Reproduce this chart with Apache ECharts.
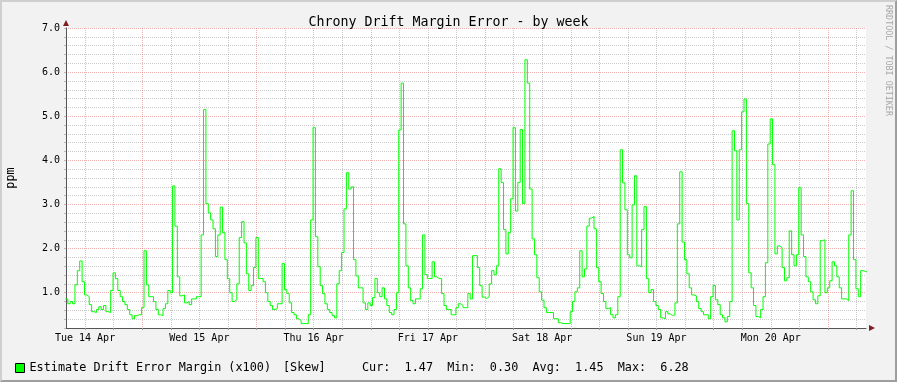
<!DOCTYPE html>
<html>
<head>
<meta charset="utf-8">
<script src="https://cdn.jsdelivr.net/npm/echarts@6/dist/echarts.min.js"></script>
<style>
  html, body { margin: 0; padding: 0; background: #F2F2F2; }
  #wrap { position: relative; width: 897px; height: 382px; }
  #chart { position: absolute; left: 0; top: 0; width: 897px; height: 382px; }
  #frame { position: absolute; left: 0; top: 0; width: 897px; height: 382px; box-sizing: border-box;
           border-top: 2px solid #CFCFCF; border-left: 2px solid #CFCFCF;
           border-bottom: 2px solid #9E9E9E; border-right: 2px solid #9E9E9E; pointer-events: none; }
</style>
</head>
<body>
<div id="wrap"><div id="chart"></div><div id="frame"></div></div>
<script>
// ---- data ----
const titleText = 'Chrony Drift Margin Error - by week';
const dayLabels = ['Tue 14 Apr', 'Wed 15 Apr', 'Thu 16 Apr', 'Fri 17 Apr', 'Sat 18 Apr', 'Sun 19 Apr', 'Mon 20 Apr'];
const yTickLabels = ['1.0', '2.0', '3.0', '4.0', '5.0', '6.0', '7.0'];
const seriesName = 'Estimate Drift Error Margin (x100)';
const legendExtra = '[Skew]';
const legendStats = ['Cur:  1.47', 'Min:  0.30', 'Avg:  1.45', 'Max:  6.28'];
// hours since Tue 14 Apr 00:00; 30-minute samples
const startHour = 7.88;
const stepHours = 0.5;
const driftMargin = [
  0.86, 0.75, 0.80, 0.75, 1.18, 1.50, 1.72, 1.25, 0.95, 0.91,
  0.73, 0.57, 0.55, 0.62, 0.68, 0.62, 0.71, 0.57, 0.55, 1.05,
  1.45, 1.32, 1.05, 0.91, 0.80, 0.73, 0.62, 0.50, 0.41, 0.48,
  0.50, 0.50, 0.66, 1.95, 1.18, 0.91, 0.91, 0.80, 0.62, 0.50,
  0.48, 0.64, 0.75, 1.05, 1.00, 3.42, 2.51, 1.36, 0.93, 0.95,
  0.77, 0.80, 0.73, 0.86, 0.86, 0.91,
  0.91, 2.31, 5.15, 3.02, 2.81, 2.65, 2.45, 1.82, 2.31, 2.94,
  2.36, 1.75, 1.32, 1.00, 0.80, 0.84, 1.20, 2.25, 2.61, 2.13,
  1.43, 1.05, 1.16, 1.57, 2.25, 1.32, 1.32, 1.25, 1.00, 0.80,
  0.71, 0.62, 0.64, 0.75, 0.75, 1.66, 1.07, 0.98, 0.77, 0.55,
  0.50, 0.41, 0.37, 0.30, 0.30, 0.30, 0.50, 2.65, 4.74, 2.27,
  1.59, 1.16, 0.98, 0.75, 0.62, 0.55,
  0.48, 0.43, 1.20, 1.50, 1.91, 2.90, 3.72, 3.35, 3.40, 1.75,
  1.38, 1.11, 1.11, 0.77, 0.62, 0.77, 0.71, 0.89, 1.32, 1.00,
  0.91, 1.11, 0.86, 0.71, 0.55, 0.50, 0.62, 1.00, 4.69, 5.75,
  2.56, 1.61, 1.11, 0.82, 0.75, 0.86, 0.86, 1.09, 2.31, 1.41,
  1.32, 1.32, 1.70, 1.36, 1.32, 1.32, 0.98, 0.71, 0.62, 0.62,
  0.50, 0.50, 0.66, 0.75, 0.71, 0.66,
  0.66, 0.98, 0.86, 1.84, 1.84, 1.57, 1.16, 0.90, 0.87, 0.91,
  1.20, 1.50, 1.41, 1.61, 3.81, 3.50, 2.43, 1.88, 2.36, 3.13,
  4.74, 2.85, 3.50, 4.70, 3.02, 6.28, 5.75, 3.35, 2.22, 1.86,
  1.34, 1.02, 0.83, 0.66, 0.55, 0.55, 0.55, 0.41, 0.41, 0.32,
  0.30, 0.30, 0.30, 0.30, 0.57, 0.80, 1.02, 1.11, 1.95, 1.36,
  1.54, 2.51, 2.69, 2.73, 2.45, 1.57,
  1.25, 0.98, 0.80, 0.64, 0.66, 0.50, 0.43, 0.50, 0.91, 4.24,
  3.49, 2.88, 1.86, 1.79, 2.99, 3.65, 1.61, 1.59, 2.43, 2.95,
  1.32, 1.00, 1.07, 0.80, 0.71, 0.62, 0.43, 0.41, 0.57, 0.52,
  0.48, 0.50, 0.77, 2.56, 3.74, 2.15, 1.75, 1.43, 1.11, 0.95,
  0.93, 0.80, 0.64, 0.57, 0.50, 0.50, 0.41, 0.91, 1.16, 0.84,
  0.73, 0.50, 0.43, 0.34, 0.46, 0.80, 4.67,
  4.22, 2.65, 4.24, 5.10, 5.39, 3.02, 1.45, 1.11, 0.71, 0.46,
  0.43, 0.62, 0.91, 1.68, 4.37, 4.94, 3.90, 1.88, 2.06, 2.02,
  1.57, 1.27, 1.34, 2.40, 1.86, 1.61, 1.86, 3.38, 2.31, 1.82,
  1.36, 1.25, 1.02, 0.84, 0.75, 0.93, 2.18, 2.20, 1.00, 1.11,
  1.27, 1.70, 1.61, 1.36, 1.11, 0.86, 0.86, 0.82, 2.31, 3.31,
  1.75, 1.09, 0.91, 1.50, 1.48, 1.47
];

// ---- build ----
const FONT = 'DejaVu Sans Mono';
const X_MIN = 8, X_MAX = 176;
const seriesData = driftMargin.map((v, i) => [startHour + i * stepHours, v]);
seriesData.push([startHour + driftMargin.length * stepHours, driftMargin[driftMargin.length - 1]]);

// grid every 6 hours (12:00 first inside the range), labels at noon
const gridHours = [];
for (let h = 12; h < X_MAX; h += 6) gridHours.push(h);
const labelHours = dayLabels.map((_, i) => 12 + 24 * i);

const G = 'rgba(150,150,150,0.5)';
const R = 'rgba(225,100,100,0.5)';

const chart = echarts.init(document.getElementById('chart'), null, { renderer: 'canvas' });
chart.setOption({
  backgroundColor: '#F2F2F2',
  animation: false,
  title: {
    text: titleText, left: 'center', top: 11,
    textStyle: { fontFamily: FONT, fontSize: 13.3, fontWeight: 'normal', color: '#000' }
  },
  legend: {
    left: 15, top: 362, padding: 0, itemWidth: 9, itemHeight: 9, icon: 'rect',
    itemStyle: { borderColor: '#000', borderWidth: 1 },
    textStyle: { fontFamily: FONT, fontSize: 11.8, color: '#000' },
    data: [seriesName]
  },
  grid: {
    left: 66, top: 28, width: 800, height: 300, show: true, backgroundColor: '#FFFFFF', borderWidth: 0,
    containLabel: false, outerBoundsMode: 'none'
  },
  xAxis: {
    type: 'value', min: X_MIN, max: X_MAX,
    axisLine: { show: true, lineStyle: { color: '#555', width: 1 } },
    axisTick: { show: true, length: 2, customValues: gridHours, lineStyle: { color: '#999', width: 1 } },
    axisLabel: {
      margin: 5, fontFamily: FONT, fontSize: 10, color: '#000',
      customValues: labelHours,
      formatter: v => dayLabels[Math.round((v - 12) / 24)] || ''
    },
    splitLine: { show: true, lineStyle: { color: [G, G, R, G], width: 1, type: [1, 1] } }
  },
  yAxis: {
    type: 'value', min: 0.2, max: 7.0, interval: 0.2,
    name: 'ppm', nameLocation: 'middle', nameRotate: 90, nameGap: 49,
    nameTextStyle: { fontFamily: FONT, fontSize: 11.8, color: '#000' },
    axisLine: { show: true, lineStyle: { color: '#555', width: 1 } },
    axisTick: { show: true, length: 2, lineStyle: { color: '#bbb', width: 1 } },
    axisLabel: {
      margin: 6, fontFamily: FONT, fontSize: 10, color: '#000',
      formatter: v => {
        const r = Math.round(v);
        return Math.abs(v - r) < 1e-6 && r >= 1 ? yTickLabels[r - 1] : '';
      }
    },
    splitLine: { show: true, lineStyle: { color: [G, G, G, G, R], width: 1, type: [1, 1] } }
  },
  graphic: [
    { type: 'polygon', shape: { points: [[63, 26], [69, 26], [66, 20]] }, style: { fill: '#801F1F' } },
    { type: 'polygon', shape: { points: [[869, 325], [869, 331], [875, 328]] }, style: { fill: '#801F1F' } },
    { type: 'text', x: 283, y: 368, style: { text: legendExtra, fontFamily: FONT, fontSize: 11.8, fill: '#000', verticalAlign: 'middle' } },
    { type: 'text', x: 362, y: 368, style: { text: legendStats.join('  '), fontFamily: FONT, fontSize: 11.8, fill: '#000', verticalAlign: 'middle' } },
    { type: 'text', x: 888, y: 5, rotation: -Math.PI / 2,
      style: { text: 'RRDTOOL / TOBI OETIKER', fontFamily: FONT, fontSize: 8.4, fill: '#A8A8A8', verticalAlign: 'middle', align: 'left' } }
  ],
  series: [{
    name: seriesName, type: 'line', step: 'end', data: seriesData,
    showSymbol: false, symbol: 'none', clip: true,
    itemStyle: { color: '#00FF00' },
    lineStyle: { color: '#00FF00', width: 1 }
  }]
});
</script>
</body>
</html>
